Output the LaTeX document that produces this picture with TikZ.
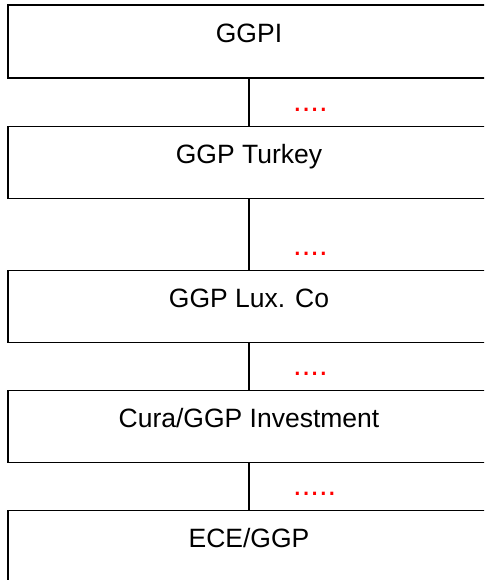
\documentclass[tikz,border=0pt]{standalone}
\usepackage{fontspec}
\setmainfont{Liberation Sans}
\begin{document}
\begin{tikzpicture}[x=1pt,y=-1pt,
  entity/.style={draw=black,line width=1.2pt,rectangle,minimum width=482pt,
    inner xsep=0pt,inner ysep=0pt,anchor=north,text height=37pt,
    font=\fontsize{26.5}{30}\selectfont},
  link/.style={draw=black,line width=1.2pt},
  dotsmark/.style={text=red,anchor=base west,inner sep=0pt,
    font=\fontsize{31}{31}\selectfont}]
\useasboundingbox (0,0) rectangle (484,580);
\clip (0,0) rectangle (484,580);
\node[entity,text depth=36pt] (b1) at (249,4.5) {GGPI};
\node[entity,text depth=34.5pt] (b2) at (249,126) {GGP Turkey};
\node[entity,text depth=34.7pt] (b3) at (249,270) {GGP Lux. Co};
\node[entity,text depth=34.7pt] (b4) at (249,390) {Cura/GGP Investment};
\node[entity,text depth=50pt] (b5) at (249,510) {ECE/GGP};
\draw[link] (b1.south) -- (b2.north);
\draw[link] (b2.south) -- (b3.north);
\draw[link] (b3.south) -- (b4.north);
\draw[link] (b4.south) -- (b5.north);
\node[dotsmark] (d1) at (293,112) {....};
\node[dotsmark] (d2) at (293,255.5) {....};
\node[dotsmark] (d3) at (293,375.5) {....};
\node[dotsmark] (d4) at (293,495.8) {.....};
\end{tikzpicture}
\end{document}
